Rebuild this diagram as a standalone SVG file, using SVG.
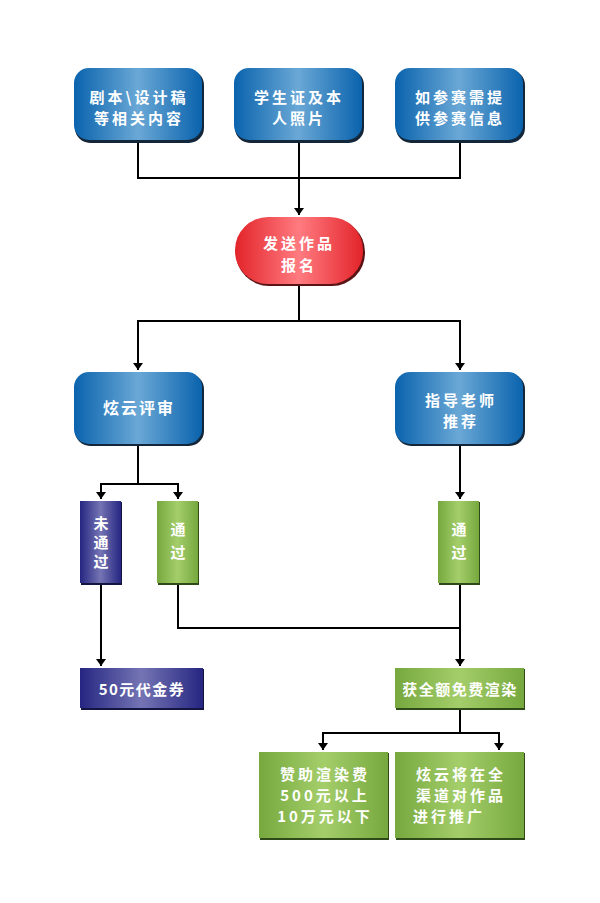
<svg xmlns="http://www.w3.org/2000/svg" width="600" height="903" viewBox="0 0 600 903">
<defs>
<linearGradient id="gBlue" x1="0" y1="0" x2="1" y2="0">
<stop offset="0" stop-color="#0a63ad"/><stop offset="0.5" stop-color="#6aa8d6"/><stop offset="1" stop-color="#0a63ad"/>
</linearGradient>
<linearGradient id="gRed" x1="0" y1="0" x2="1" y2="0">
<stop offset="0" stop-color="#e2242a"/><stop offset="0.5" stop-color="#ff7b80"/><stop offset="1" stop-color="#e2242a"/>
</linearGradient>
<linearGradient id="gGreen" x1="0" y1="0" x2="1" y2="0">
<stop offset="0" stop-color="#76a83e"/><stop offset="0.5" stop-color="#a4ce6a"/><stop offset="1" stop-color="#76a83e"/>
</linearGradient>
<linearGradient id="gPurple" x1="0" y1="0" x2="1" y2="0">
<stop offset="0" stop-color="#262682"/><stop offset="0.5" stop-color="#7474b4"/><stop offset="1" stop-color="#262682"/>
</linearGradient>
<marker id="arr" markerUnits="userSpaceOnUse" markerWidth="8" markerHeight="10" refX="7" refY="5" orient="auto" viewBox="0 0 8 10">
<path d="M0,0 L7,5 L0,10 Z" fill="#000"/>
</marker>
</defs>
<style>
.t{font-family:"Noto Sans CJK SC","Liberation Sans",sans-serif;font-weight:bold;fill:#fff;text-anchor:middle;font-size:16px;letter-spacing:2px}
.s{font-size:15px;letter-spacing:1.5px}
.v{font-size:15px;letter-spacing:0}
.b{font-size:15px;letter-spacing:3px}
.c{fill:none;stroke:#000;stroke-width:2}
.sh{fill:#13263a}
</style>
<g id="connectors">
<path class="c" d="M138,141 V178 H460 V141"/>
<path class="c" d="M299,141 V215" marker-end="url(#arr)"/>
<path class="c" d="M299,284 V321 H138 V370" marker-end="url(#arr)"/>
<path class="c" d="M299,321 H460 V370" marker-end="url(#arr)"/>
<path class="c" d="M138,444 V484 H101 V499" marker-end="url(#arr)"/>
<path class="c" d="M138,484 H178 V499" marker-end="url(#arr)"/>
<path class="c" d="M460,444 V499" marker-end="url(#arr)"/>
<path class="c" d="M101,583 V666" marker-end="url(#arr)"/>
<path class="c" d="M178,583 V628 H460"/>
<path class="c" d="M460,583 V666" marker-end="url(#arr)"/>
<path class="c" d="M460,708 V733 H323 V750" marker-end="url(#arr)"/>
<path class="c" d="M460,733 H499 V750" marker-end="url(#arr)"/>
</g>
<g id="n1">
<rect class="sh" x="75" y="70" width="129" height="73" rx="15"/>
<rect x="74" y="68" width="128" height="72" rx="15" fill="url(#gBlue)"/>
<text class="t b" x="139" y="103">剧本\设计稿</text>
<text class="t b" x="139" y="124">等相关内容</text>
</g>
<g id="n2">
<rect class="sh" x="235" y="70" width="129" height="73" rx="15"/>
<rect x="234" y="68" width="128" height="72" rx="15" fill="url(#gBlue)"/>
<text class="t b" x="299" y="103">学生证及本</text>
<text class="t b" x="299" y="124">人照片</text>
</g>
<g id="n3">
<rect class="sh" x="396" y="70" width="129" height="73" rx="15"/>
<rect x="395" y="68" width="128" height="72" rx="15" fill="url(#gBlue)"/>
<text class="t b" x="460" y="103">如参赛需提</text>
<text class="t b" x="460" y="124">供参赛信息</text>
</g>
<g id="n4">
<rect x="236" y="219" width="129" height="67" rx="33" fill="#5a1416"/>
<rect x="235" y="217" width="128" height="67" rx="33" fill="url(#gRed)"/>
<text class="t b" x="299" y="249">发送作品</text>
<text class="t b" x="299" y="271">报名</text>
</g>
<g id="n5">
<rect class="sh" x="75" y="374" width="129" height="72" rx="15"/>
<rect x="74" y="372" width="128" height="72" rx="15" fill="url(#gBlue)"/>
<text class="t" x="139" y="414">炫云评审</text>
</g>
<g id="n6">
<rect class="sh" x="396" y="374" width="129" height="72" rx="15"/>
<rect x="395" y="372" width="128" height="72" rx="15" fill="url(#gBlue)"/>
<text class="t b" x="461" y="406">指导老师</text>
<text class="t b" x="461" y="427">推荐</text>
</g>
<g id="n7">
<rect x="81" y="502" width="41" height="83" fill="#141440"/>
<rect x="80" y="501" width="41" height="82" fill="url(#gPurple)"/>
<text class="t v" x="101" y="529">未</text>
<text class="t v" x="101" y="548">通</text>
<text class="t v" x="101" y="567">过</text>
</g>
<g id="n8">
<rect x="158" y="502" width="41" height="83" fill="#2e4a18"/>
<rect x="157" y="501" width="41" height="82" fill="url(#gGreen)"/>
<text class="t v" x="178" y="535">通</text>
<text class="t v" x="178" y="558">过</text>
</g>
<g id="n9">
<rect x="439" y="502" width="41" height="83" fill="#2e4a18"/>
<rect x="438" y="501" width="41" height="82" fill="url(#gGreen)"/>
<text class="t v" x="459" y="535">通</text>
<text class="t v" x="459" y="558">过</text>
</g>
<g id="n10">
<rect x="81" y="669" width="123" height="41" fill="#141440"/>
<rect x="80" y="668" width="123" height="40" fill="url(#gPurple)"/>
<text class="t s" x="142" y="695">50元代金券</text>
</g>
<g id="n11">
<rect x="396" y="669" width="129" height="41" fill="#2e4a18"/>
<rect x="395" y="668" width="129" height="40" fill="url(#gGreen)"/>
<text class="t s" x="460" y="695">获全额免费渲染</text>
</g>
<g id="n12">
<rect x="260" y="753" width="129" height="87" fill="#2e4a18"/>
<rect x="259" y="752" width="129" height="86" fill="url(#gGreen)"/>
<text class="t b" x="325" y="780">赞助渲染费</text>
<text class="t b" x="325" y="801">500元以上</text>
<text class="t b" x="325" y="822">10万元以下</text>
</g>
<g id="n13">
<rect x="396" y="753" width="129" height="87" fill="#2e4a18"/>
<rect x="395" y="752" width="129" height="86" fill="url(#gGreen)"/>
<text class="t b" x="461" y="780">炫云将在全</text>
<text class="t b" x="461" y="801">渠道对作品</text>
<text class="t b" x="413" y="822" style="text-anchor:start">进行推广</text>
</g>
</svg>
